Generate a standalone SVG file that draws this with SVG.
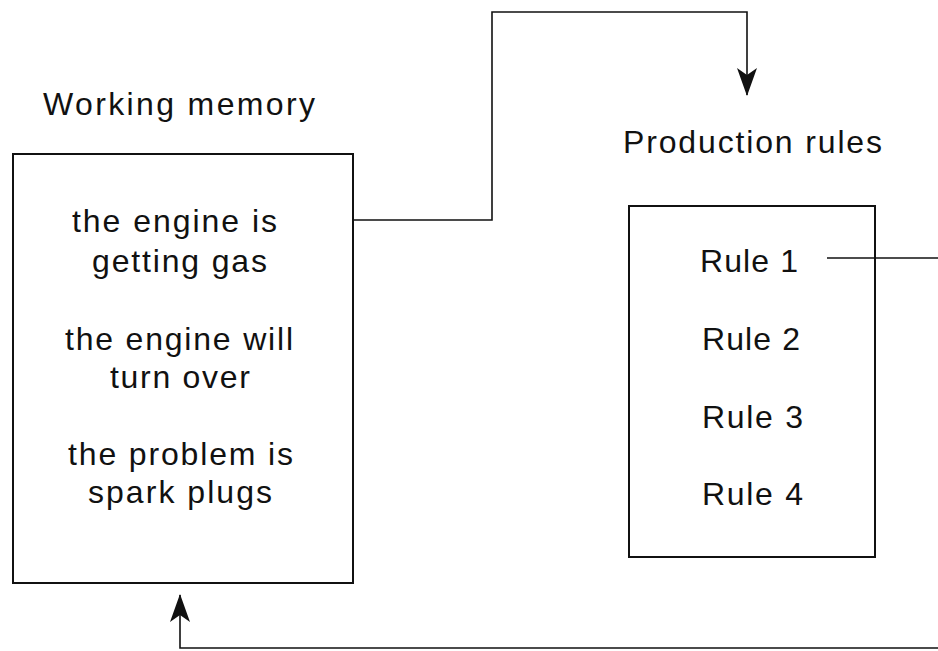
<svg xmlns="http://www.w3.org/2000/svg" width="938" height="651" viewBox="0 0 938 651">
<defs>
<style>
.bg{fill:#fff}
.box{fill:none;stroke:#111;stroke-width:2}
.conn{fill:none;stroke:#111;stroke-width:1.6}
.t{font-family:"Liberation Sans",Arial,Helvetica,sans-serif;font-size:32px;fill:#111}
</style>
<marker id="ah" markerUnits="userSpaceOnUse" markerWidth="28" markerHeight="20" refX="27" refY="10" orient="auto" viewBox="0 0 28 20">
<path d="M0,0 L28,10 L0,20 L7,10 z" fill="#111"/>
</marker>
</defs>
<rect class="bg" x="0" y="0" width="938" height="651"/>
<g id="working-memory">
<text class="t" x="43" y="115" textLength="272">Working memory</text>
<rect class="box" x="13" y="154" width="340" height="429"/>
<text class="t" x="72" y="232" textLength="205">the engine is</text>
<text class="t" x="92" y="272" textLength="175">getting gas</text>
<text class="t" x="65" y="350" textLength="228">the engine will</text>
<text class="t" x="110" y="388" textLength="140">turn over</text>
<text class="t" x="68" y="465" textLength="225">the problem is</text>
<text class="t" x="88" y="503" textLength="184">spark plugs</text>
</g>
<g id="production-rules">
<text class="t" x="623" y="153" textLength="259">Production rules</text>
<rect class="box" x="629" y="206" width="246" height="351"/>
<text class="t" x="700" y="272" textLength="98">Rule 1</text>
<text class="t" x="702" y="350" textLength="98">Rule 2</text>
<text class="t" x="702" y="428" textLength="101">Rule 3</text>
<text class="t" x="702" y="505" textLength="101">Rule 4</text>
</g>
<g id="connectors">
<path class="conn" d="M353,220 H492 V12 H747 V95" marker-end="url(#ah)"/>
<path class="conn" d="M827,258 H938"/>
<path class="conn" d="M938,648 H180 V595" marker-end="url(#ah)"/>
</g>
</svg>
